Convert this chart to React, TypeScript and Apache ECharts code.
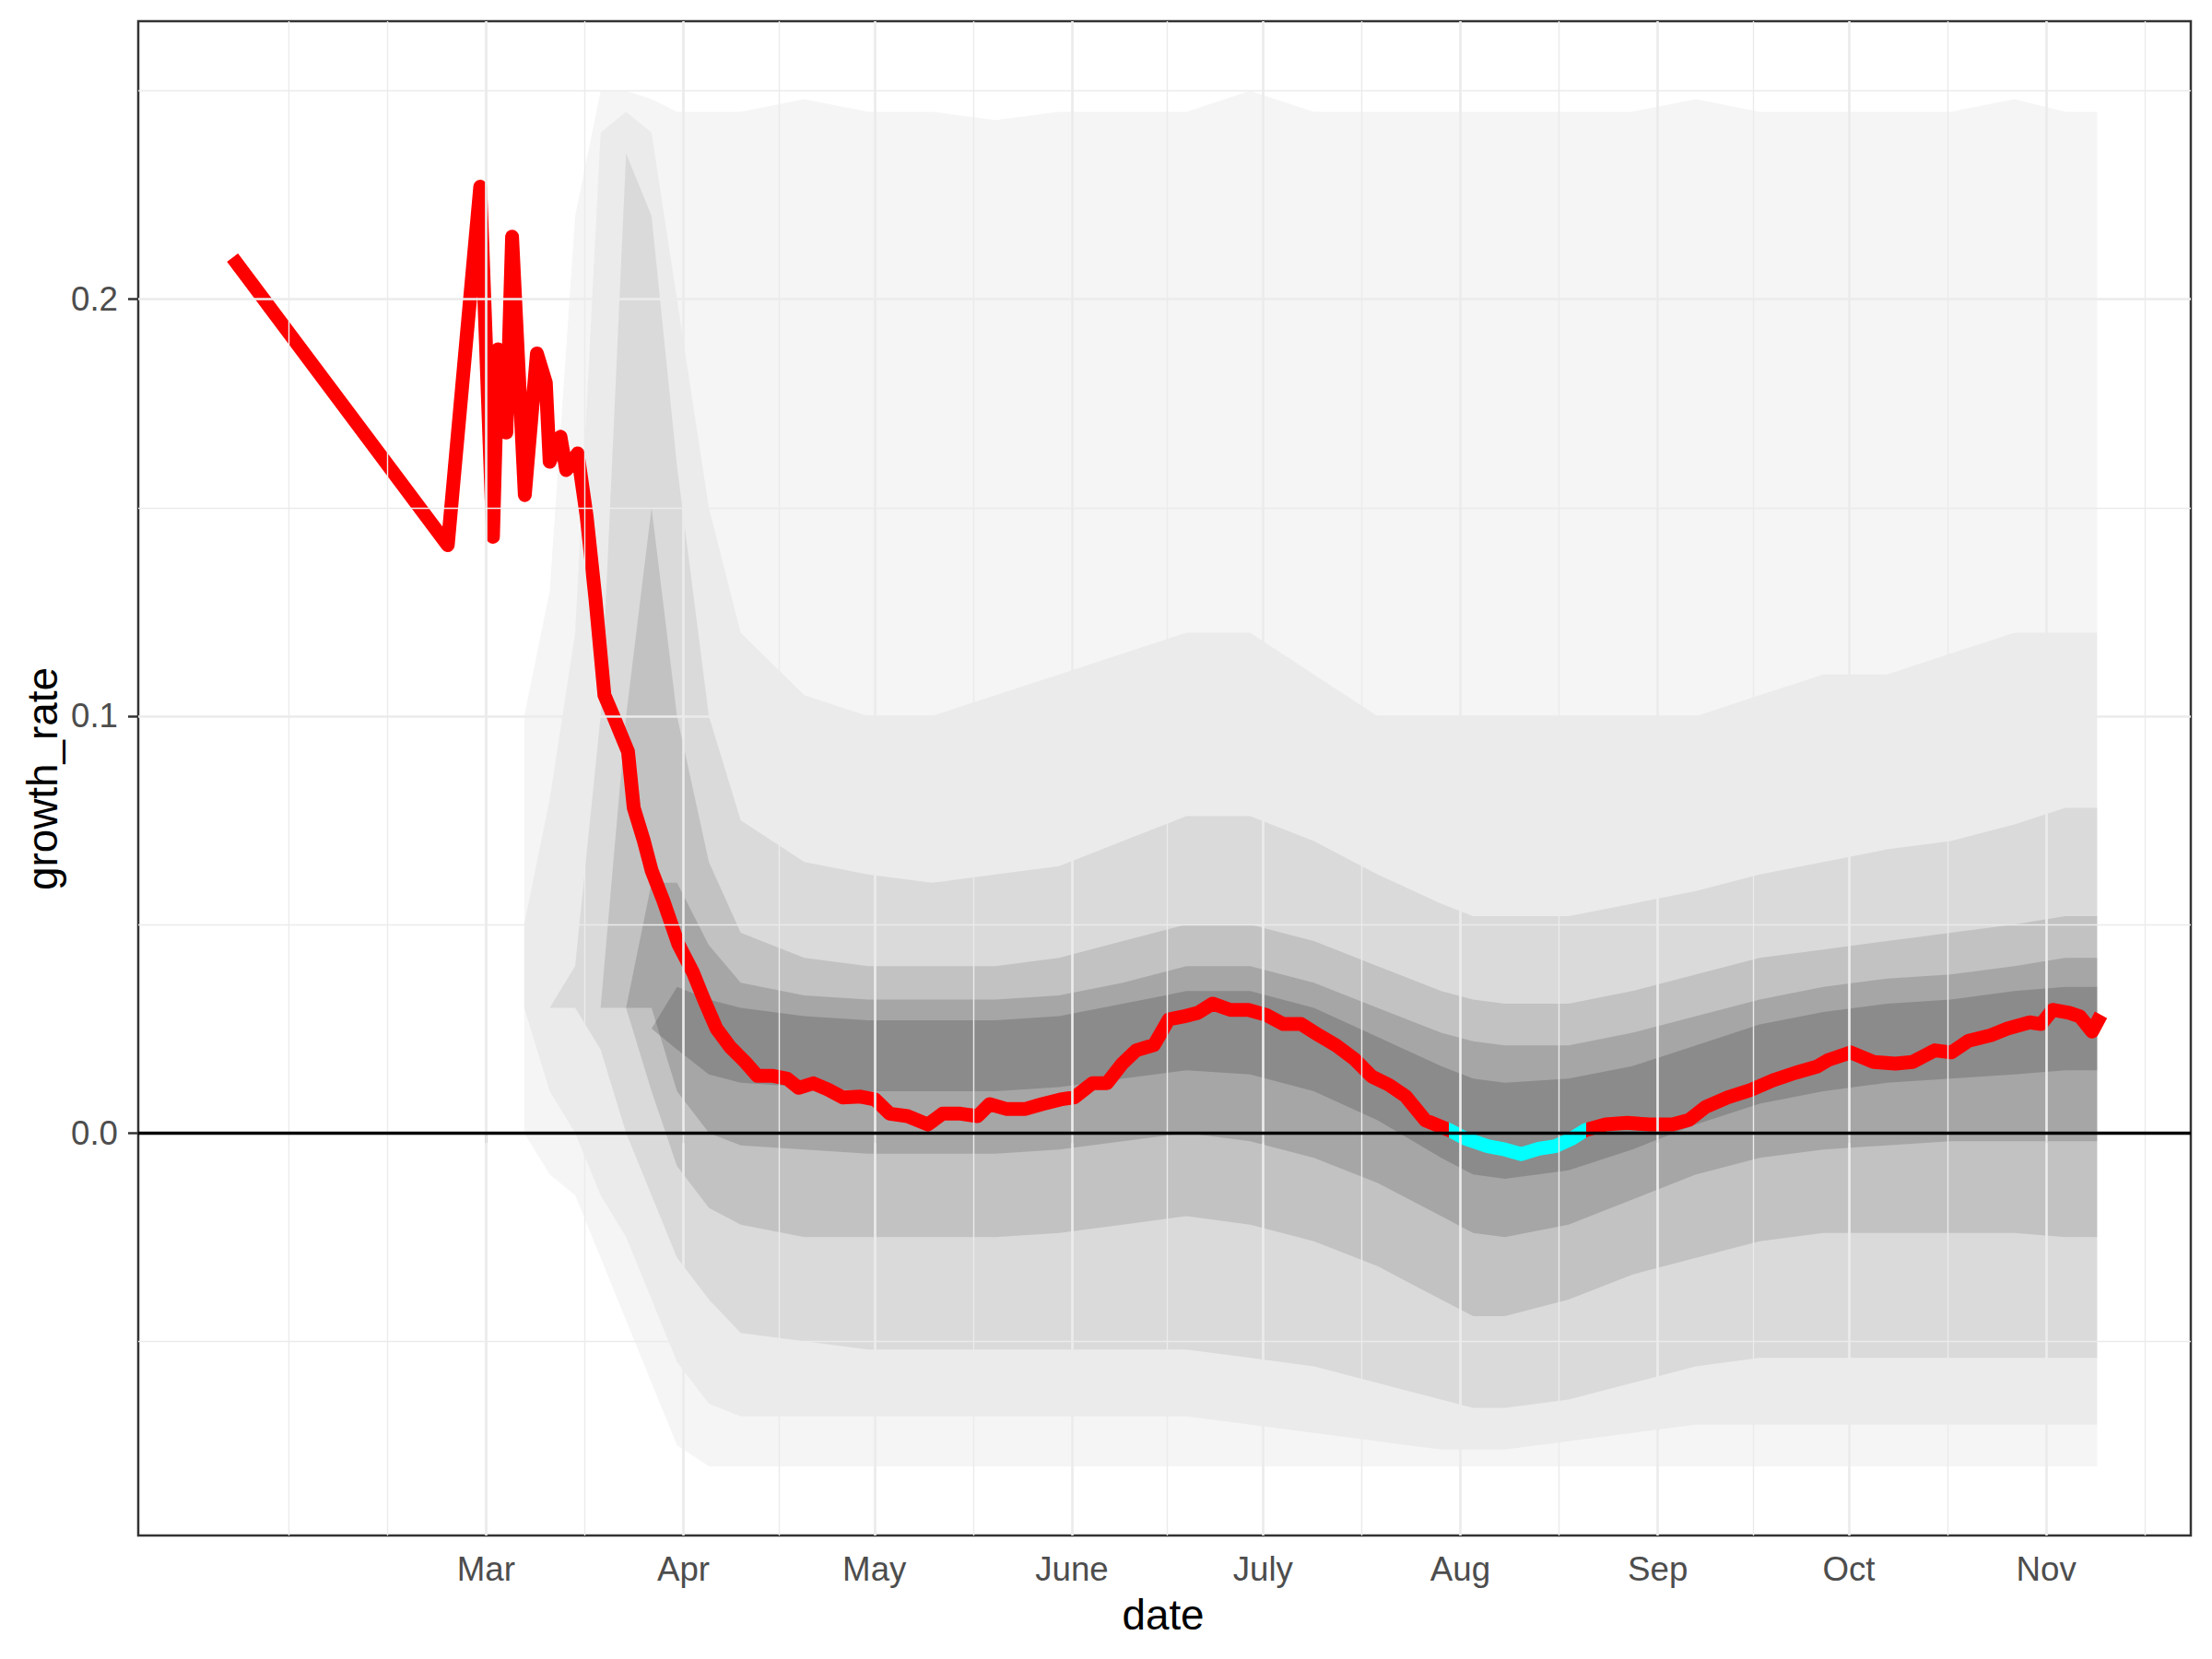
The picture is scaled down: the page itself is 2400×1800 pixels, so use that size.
import { useEffect, useRef } from "react";
import * as echarts from "echarts";

// x axis is days since 1 Jan (2020)
const monthDays = [60, 91, 121, 152, 182, 213, 244, 274, 305];
const monthLabels = ["Mar", "Apr", "May", "June", "July", "Aug", "Sep", "Oct", "Nov"];
const minorDays = [29, 44.5, 75.5, 106, 136.5, 167, 197.5, 228.5, 259, 289.5, 320.5];
const yTicks = [0, 0.1, 0.2];
const yMinorTicks = [-0.05, 0.05, 0.15, 0.25];

// highlighted growth rate
const rateDays = [
  20.2, 54.0, 59.1, 61.1, 61.9, 63.2, 64.1, 66.1, 68.0, 69.4, 70.0, 71.7, 72.6, 74.4, 75.8, 77.2,
  78.6, 80.0, 82.3, 83.2, 84.8, 86.0, 87.9, 90.2, 92.5, 94.3, 96.2, 98.4, 100.7, 102.6, 104.9,
  107.3, 109.1, 111.4, 113.7, 116.0, 118.8, 121.1, 123.4, 126.2, 129.4, 131.7, 134.5, 137.2,
  139.1, 141.8, 144.6, 147.3, 150.2, 152.4, 155.2, 157.5, 159.9, 162.1, 164.9, 167.2, 169.5,
  171.8, 174.1, 176.9, 179.7, 182.5, 185.2, 188.0, 190.8, 193.5, 196.3, 199.1, 201.8, 204.4,
  207.5, 211.2, 213.8, 217.3, 220.0, 222.6, 225.3, 227.9, 230.5, 232.7, 235.8, 239.2, 242.7,
  246.3, 248.9, 251.5, 255.0, 258.6, 262.1, 265.6, 269.0, 270.8, 274.3, 277.9, 281.3, 284.0,
  287.5, 290.1, 292.8, 296.3, 298.9, 302.4, 304.2, 306.0, 308.6, 310.3, 312.2, 313.6,
];
const rateValues = [
  0.21, 0.141, 0.227, 0.143, 0.188, 0.168, 0.215, 0.153, 0.187, 0.18, 0.161, 0.167, 0.159, 0.163,
  0.148, 0.128, 0.105, 0.1, 0.0915, 0.078, 0.07, 0.063, 0.0555, 0.0453, 0.0385, 0.0317, 0.025,
  0.0205, 0.017, 0.0137, 0.0137, 0.013, 0.0108, 0.0119, 0.0104, 0.0085, 0.0087, 0.008, 0.0046,
  0.004, 0.002, 0.0046, 0.0046, 0.004, 0.0069, 0.0057, 0.0057, 0.0069, 0.008, 0.0085, 0.0119,
  0.0119, 0.0166, 0.0198, 0.0211, 0.0272, 0.0279, 0.0288, 0.031, 0.0295, 0.0295, 0.0283, 0.0261,
  0.0261, 0.0234, 0.021, 0.0178, 0.0135, 0.0115, 0.0088, 0.003, 0.0007, -0.0014, -0.0032, -0.004,
  -0.0051, -0.0038, -0.0032, -0.0014, 0.0007, 0.002, 0.0024, 0.002, 0.002, 0.0031, 0.0062,
  0.0085, 0.0103, 0.0126, 0.0144, 0.0159, 0.0175, 0.0193, 0.017, 0.0166, 0.017, 0.0198, 0.0193,
  0.0221, 0.0234, 0.025, 0.0265, 0.0261, 0.0295, 0.0288, 0.0279, 0.0243, 0.0283,
];

// density contours of the simulated trajectories (grey spaghetti), light to dark
const bandDays = [
  66, 70, 74, 78, 82, 86, 90, 95, 100, 110, 120, 130, 140, 150, 160, 170, 180, 190, 200, 210, 215,
  220, 230, 240, 250, 260, 270, 280, 290, 300, 308, 313,
];
const outerHi = [
  0.1, 0.13, 0.22, 0.25, 0.25, 0.248, 0.245, 0.245, 0.245, 0.248, 0.245, 0.245, 0.243, 0.245,
  0.245, 0.245, 0.25, 0.245, 0.245, 0.245, 0.245, 0.245, 0.245, 0.245, 0.248, 0.245, 0.245, 0.245,
  0.245, 0.248, 0.245, 0.245,
];
const outerLo = [
  0.0, -0.01, -0.015, -0.03, -0.045, -0.06, -0.075, -0.08, -0.08, -0.08, -0.08, -0.08, -0.08,
  -0.08, -0.08, -0.08, -0.08, -0.08, -0.08, -0.08, -0.08, -0.08, -0.08, -0.08, -0.08, -0.08,
  -0.08, -0.08, -0.08, -0.08, -0.08, -0.08,
];
const wideHi = [
  0.05, 0.08, 0.12, 0.24, 0.245, 0.24, 0.2, 0.15, 0.12, 0.105, 0.1, 0.1, 0.105, 0.11, 0.115, 0.12,
  0.12, 0.11, 0.1, 0.1, 0.1, 0.1, 0.1, 0.1, 0.1, 0.105, 0.11, 0.11, 0.115, 0.12, 0.12, 0.12,
];
const wideLo = [
  0.03, 0.01, 0.0, -0.015, -0.025, -0.04, -0.055, -0.065, -0.068, -0.068, -0.068, -0.068, -0.068,
  -0.068, -0.068, -0.068, -0.07, -0.072, -0.074, -0.076, -0.076, -0.076, -0.074, -0.072, -0.07,
  -0.07, -0.07, -0.07, -0.07, -0.07, -0.07, -0.07,
];
const midHi = [
  0.03, 0.03, 0.04, 0.1, 0.235, 0.22, 0.16, 0.1, 0.075, 0.065, 0.062, 0.06, 0.062, 0.064, 0.07,
  0.076, 0.076, 0.07, 0.062, 0.055, 0.052, 0.052, 0.052, 0.055, 0.058, 0.062, 0.065, 0.068, 0.07,
  0.074, 0.078, 0.078,
];
const midLo = [
  0.03, 0.03, 0.03, 0.02, 0.0, -0.015, -0.03, -0.04, -0.048, -0.05, -0.052, -0.052, -0.052,
  -0.052, -0.052, -0.052, -0.054, -0.056, -0.06, -0.064, -0.066, -0.066, -0.064, -0.06, -0.056,
  -0.054, -0.054, -0.054, -0.054, -0.054, -0.054, -0.054,
];
const coreHi = [
  0.03, 0.03, 0.03, 0.03, 0.1, 0.15, 0.1, 0.065, 0.048, 0.042, 0.04, 0.04, 0.04, 0.042, 0.046,
  0.05, 0.05, 0.046, 0.04, 0.034, 0.032, 0.031, 0.031, 0.034, 0.038, 0.042, 0.044, 0.046, 0.048,
  0.05, 0.052, 0.052,
];
const coreLo = [
  0.03, 0.03, 0.03, 0.03, 0.03, 0.01, -0.008, -0.018, -0.022, -0.025, -0.025, -0.025, -0.025,
  -0.024, -0.022, -0.02, -0.022, -0.026, -0.032, -0.04, -0.044, -0.044, -0.04, -0.034, -0.03,
  -0.026, -0.024, -0.024, -0.024, -0.024, -0.025, -0.025,
];
const innerHi = [
  0.03, 0.03, 0.03, 0.03, 0.03, 0.06, 0.06, 0.045, 0.036, 0.033, 0.032, 0.032, 0.032, 0.033,
  0.036, 0.04, 0.04, 0.036, 0.03, 0.024, 0.022, 0.021, 0.021, 0.024, 0.028, 0.032, 0.035, 0.037,
  0.038, 0.04, 0.042, 0.042,
];
const innerLo = [
  0.03, 0.03, 0.03, 0.03, 0.03, 0.03, 0.01, 0.0, -0.003, -0.004, -0.005, -0.005, -0.005, -0.004,
  -0.002, 0.0, -0.002, -0.006, -0.012, -0.02, -0.024, -0.025, -0.022, -0.016, -0.01, -0.006,
  -0.004, -0.003, -0.002, -0.002, -0.002, -0.002,
];
const denseHi = [
  0.025, 0.025, 0.025, 0.025, 0.025, 0.025, 0.035, 0.032, 0.03, 0.028, 0.027, 0.027, 0.027, 0.028,
  0.031, 0.034, 0.034, 0.03, 0.023, 0.016, 0.013, 0.012, 0.013, 0.016, 0.021, 0.026, 0.029, 0.031,
  0.032, 0.034, 0.035, 0.035,
];
const denseLo = [
  0.025, 0.025, 0.025, 0.025, 0.025, 0.025, 0.02, 0.014, 0.012, 0.011, 0.01, 0.01, 0.01, 0.011,
  0.013, 0.015, 0.014, 0.01, 0.003, -0.006, -0.01, -0.011, -0.009, -0.004, 0.002, 0.007, 0.01,
  0.012, 0.013, 0.014, 0.015, 0.015,
];

const FONT = "'Liberation Sans', Arial, sans-serif";

export default function App() {
  const ref = useRef<HTMLDivElement>(null);

  useEffect(() => {
    if (!ref.current) return;
    document.body.style.margin = "0";
    const chart = echarts.init(ref.current, undefined, { renderer: "svg" });

    const layers = [
      { lo: outerLo, hi: outerHi, alpha: 0.04 },
      { lo: wideLo, hi: wideHi, alpha: 0.04 },
      { lo: midLo, hi: midHi, alpha: 0.07 },
      { lo: coreLo, hi: coreHi, alpha: 0.11 },
      { lo: innerLo, hi: innerHi, alpha: 0.14 },
      { lo: denseLo, hi: denseHi, alpha: 0.16 },
    ];

    // segments starting at a negative point are drawn cyan
    let firstNeg = -1;
    let lastNeg = -1;
    rateValues.forEach((v, i) => {
      if (v < 0) {
        if (firstNeg < 0) firstNeg = i;
        lastNeg = i;
      }
    });
    const cyanFrom = rateDays[Math.max(firstNeg - 1, 0)];
    const cyanTo = rateDays[Math.min(lastNeg + 1, rateDays.length - 1)];

    const gridLine = (width: number) => ({ color: "#EBEBEB", width, type: "solid" });

    chart.setOption({
      animation: false,
      backgroundColor: "#ffffff",
      textStyle: { fontFamily: FONT },
      grid: {
        left: 150,
        right: 23,
        top: 23,
        bottom: 134,
        show: true,
        backgroundColor: "#ffffff",
        borderColor: "#333333",
        borderWidth: 2.5,
      },
      xAxis: {
        type: "value",
        min: 5.4,
        max: 327.7,
        axisLine: { show: false },
        splitLine: { show: false },
        axisTick: {
          show: true,
          customValues: monthDays,
          length: 11,
          lineStyle: { color: "#333333", width: 2.5 },
        },
        axisLabel: {
          customValues: monthDays,
          margin: 18,
          fontSize: 36.7,
          color: "#4D4D4D",
          fontFamily: FONT,
          formatter: (v: number) => monthLabels[monthDays.indexOf(v)] ?? "",
        },
      },
      yAxis: {
        type: "value",
        min: -0.0966,
        max: 0.2667,
        axisLine: { show: false },
        splitLine: { show: false },
        axisTick: {
          show: true,
          customValues: yTicks,
          length: 11,
          lineStyle: { color: "#333333", width: 2.5 },
        },
        axisLabel: {
          customValues: yTicks,
          margin: 22,
          fontSize: 36.7,
          color: "#4D4D4D",
          fontFamily: FONT,
          formatter: (v: number) => v.toFixed(1),
        },
      },
      visualMap: {
        show: false,
        type: "piecewise",
        dimension: 0,
        seriesIndex: 3,
        pieces: [
          { lt: cyanFrom, color: "#FF0000" },
          { gte: cyanFrom, lte: cyanTo, color: "#00FFFF" },
          { gt: cyanTo, color: "#FF0000" },
        ],
      },
      series: [
        // panel grid
        {
          type: "line",
          data: [],
          z: 1,
          silent: true,
          markLine: {
            silent: true,
            symbol: "none",
            label: { show: false },
            animation: false,
            data: [
              ...minorDays.map((d) => ({ xAxis: d, lineStyle: gridLine(1.4) })),
              ...yMinorTicks.map((v) => ({ yAxis: v, lineStyle: gridLine(1.4) })),
              ...monthDays.map((d) => ({ xAxis: d, lineStyle: gridLine(2.7) })),
              ...yTicks.map((v) => ({ yAxis: v, lineStyle: gridLine(2.7) })),
            ],
          },
        },
        // trajectory density
        {
          type: "custom",
          silent: true,
          z: 2,
          data: layers.map((_, i) => [bandDays[0], 0, i]),
          encode: { x: 0, y: 1 },
          renderItem: (params: any, api: any) => {
            const layer = layers[params.dataIndex];
            const upper = bandDays.map((d, j) => api.coord([d, layer.hi[j]]));
            const lower = bandDays.map((d, j) => api.coord([d, layer.lo[j]])).reverse();
            return {
              type: "polygon",
              shape: { points: [...upper, ...lower] },
              style: { fill: `rgba(0,0,0,${layer.alpha})` },
            };
          },
        },
        // zero reference line
        {
          type: "line",
          data: [],
          z: 3,
          silent: true,
          markLine: {
            silent: true,
            symbol: "none",
            label: { show: false },
            animation: false,
            data: [{ yAxis: 0, lineStyle: { color: "#000000", width: 3.3, type: "solid" } }],
          },
        },
        {
          type: "line",
          data: rateDays.map((d, i) => [d, rateValues[i]]),
          symbol: "none",
          z: 4,
          lineStyle: { width: 15, cap: "butt", join: "round" },
        },
      ],
      graphic: [
        {
          type: "text",
          x: 1262,
          y: 1752,
          style: {
            text: "date",
            font: `45.8px ${FONT}`,
            fill: "#000000",
            align: "center",
            verticalAlign: "middle",
          },
        },
        {
          type: "text",
          x: 46,
          y: 845,
          rotation: Math.PI / 2,
          style: {
            text: "growth_rate",
            font: `45.8px ${FONT}`,
            fill: "#000000",
            align: "center",
            verticalAlign: "middle",
          },
        },
      ],
    });

    return () => {
      chart.dispose();
    };
  }, []);

  return <div ref={ref} style={{ width: 2400, height: 1800 }} />;
}
